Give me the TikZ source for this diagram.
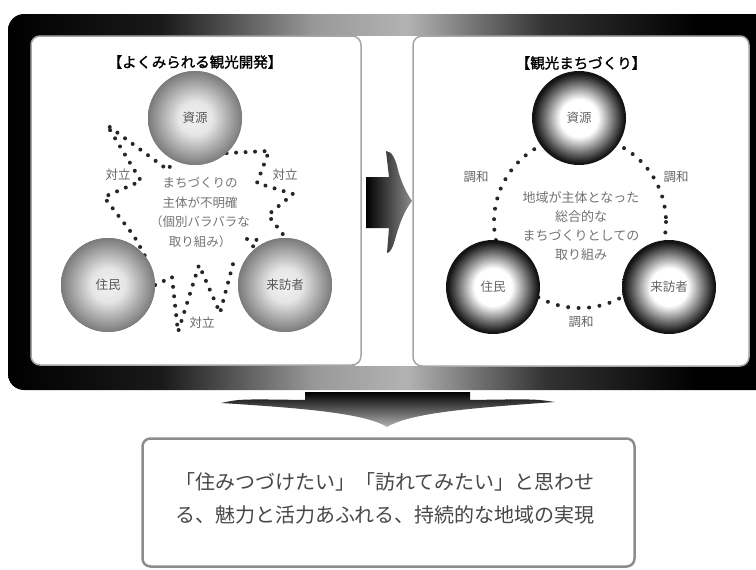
\documentclass[tikz,border=0pt]{standalone}
\usepackage{fontspec}
\newfontfamily\jp{Noto Sans CJK JP}
\newfontfamily\jpb[FakeBold=1.5]{Noto Sans CJK JP}
\usetikzlibrary{calc}
\pgfdeclarehorizontalshading{frameshade}{100bp}{color(0bp)=(black); color(25bp)=(black); color(35bp)=(black!90); color(45bp)=(black!40); color(51bp)=(black!30); color(60bp)=(black!80); color(70bp)=(black); color(100bp)=(black)}
\pgfdeclareradialshading{lightball}{\pgfpoint{0bp}{0bp}}{color(0bp)=(black!5); color(9bp)=(black!10); color(25bp)=(black!52); color(50bp)=(black!52)}
\pgfdeclareradialshading{darkball}{\pgfpoint{0bp}{0bp}}{color(0bp)=(white); color(10bp)=(white); color(19bp)=(black!60); color(24bp)=(black!92); color(50bp)=(black!92)}
\begin{document}
\begin{tikzpicture}[x=1pt,y=-1pt,
  every node/.style={inner sep=0pt},
  lball/.style={circle, minimum size=94pt, shading=lightball, font=\jp\fontsize{12.5}{14}\selectfont, text=black!65},
  dball/.style={circle, minimum size=94pt, shading=darkball, font=\jp\fontsize{12.5}{14}\selectfont, text=black!60},
  paneltitle/.style={font=\jpb\fontsize{14.5}{16}\selectfont, text=black},
  rel/.style={font=\jp\fontsize{12.5}{14}\selectfont, text=black!60},
  centertext/.style={align=center, text=black!55},
  dotpath/.style={draw=black!85, line width=4pt, dash pattern=on 0pt off 9.5pt, line cap=round, line join=round},
  panel/.style={draw=black!35, line width=1.5pt, fill=white, rounded corners=9pt}
]
\useasboundingbox (0,0) rectangle (756,570);
\clip (0,0) rectangle (756,570);
\fill[white] (0,0) rectangle (756,570);

% big frame
\path[shading=frameshade, rounded corners=16pt] (8,14) rectangle (775,390);
\fill[white] (355,36) rectangle (419,366);
\path[panel] (31,36) rectangle (361,365);
\path[panel] (413,36) rectangle (749,366);

% middle arrow
\path[left color=black, right color=black!45]
  (366,177) -- (389,177) -- (386,151)
  .. controls (392,151) and (396,160) .. (398,170)
  .. controls (402,185) and (408,195) .. (412,201)
  .. controls (405,210) and (400,222) .. (396,236)
  .. controls (393,248) and (390,253) .. (387,253)
  -- (389,228) -- (366,228) -- cycle;

% bottom arrow
\path[top color=black, bottom color=black!30]
  (221,403) .. controls (240,399) .. (305,400) -- (305,392) -- (470,392) -- (470,400)
  .. controls (535,399) .. (555,402)
  .. controls (470,408) and (410,413) .. (387,427)
  .. controls (365,413) and (300,408) .. (221,403) -- cycle;

% goal box
\node[draw=black!45, line width=2.5pt, rounded corners=8pt, fill=white,
      minimum width=492pt, minimum height=128pt] (goal) at (388.5,502.5) {};
\node[align=center, font=\jp\fontsize{20}{33}\selectfont, text=black!72] (goaltext) at (385,498.5)
  {「住みつづけたい」「訪れてみたい」と思わせ\\る、魅力と活力あふれる、持続的な地域の実現};

% ---------- left panel ----------
\node[paneltitle] (t1) at (195,62) {【よくみられる観光開発】};
\coordinate (s1c) at (195,118);
\coordinate (j1c) at (108,285);
\coordinate (v1c) at (285,285);
\node[lball] (s1) at (s1c) {};
\node[lball] (j1) at (j1c) {};
\node[lball] (v1) at (v1c) {};
% conflict bolts
\draw[dotpath] (j1.39) -- (134,236) -- (104,197) -- (141,181) -- (110,130) -- (107,125) -- (168,170) -- (s1.243);
\draw[dotpath] (s1.-48) -- (269,151) -- (257,183) -- (293,194) -- (268,215) -- (285,237) -- (v1.north);
\draw[dotpath] (j1.east) -- (172,277) -- (178,332) -- (199,265) -- (220,313) -- (233,264) -- (v1.160);
\draw[dotpath] (247,239) -- (258,240) -- (251,249);
% balls on top
\node[lball] at (s1c) {資源};
\node[lball] at (j1c) {住民};
\node[lball] at (v1c) {来訪者};
\node[rel] (c1) at (118,175) {対立};
\node[rel] (c2) at (285,175) {対立};
\node[rel] (c3) at (202,323) {対立};
\node[centertext, font=\jp\fontsize{12.5}{19.7}\selectfont] (m1) at (200,212.5)
  {まちづくりの\\主体が不明確\\（個別バラバラな\\取り組み）};

% ---------- right panel ----------
\node[paneltitle] (t2) at (581,63) {【観光まちづくり】};
\coordinate (cc) at (580,222);
\draw[dotpath, dash pattern=on 0pt off 10.5pt] (cc) circle[radius=86];
\node[dball] (s2) at (579,118) {資源};
\node[dball] (j2) at (493,287) {住民};
\node[dball] (v2) at (669,287) {来訪者};
\node[rel] (h1) at (476,177) {調和};
\node[rel] (h2) at (676,177) {調和};
\node[rel] (h3) at (581,322) {調和};
\node[centertext, font=\jp\fontsize{13}{19.3}\selectfont] (m2) at (581,226)
  {地域が主体となった\\総合的な\\まちづくりとしての\\取り組み};
\end{tikzpicture}
\end{document}
